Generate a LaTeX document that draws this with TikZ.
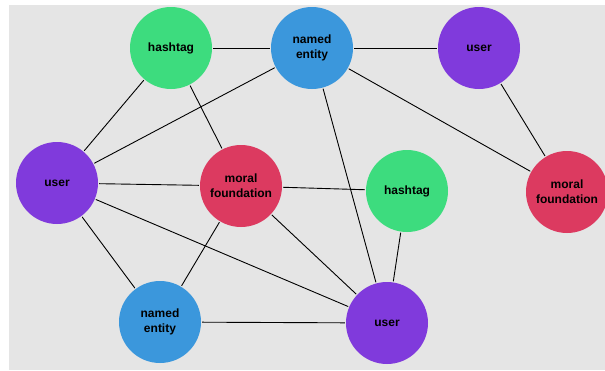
\documentclass[tikz,border=0pt]{standalone}
\usepackage{fontspec}
\setmainfont{Liberation Sans}
\definecolor{tagcol}{RGB}{61,220,126}
\definecolor{entcol}{RGB}{59,151,220}
\definecolor{usercol}{RGB}{128,58,220}
\definecolor{moralcol}{RGB}{220,58,96}
\definecolor{bgcol}{RGB}{229,229,229}
\begin{document}
\begin{tikzpicture}[x=1pt,y=-1pt,
	vertex/.style={circle,minimum size=82pt,inner sep=0pt,align=center,
		font=\fontsize{12}{15}\selectfont\bfseries},
	tag/.style={vertex,fill=tagcol},
	ent/.style={vertex,fill=entcol},
	usr/.style={vertex,fill=usercol},
	moral/.style={vertex,fill=moralcol},
	link/.style={line width=0.9pt,shorten >=1pt,shorten <=1pt}]
	\useasboundingbox (0,0) rectangle (605,370);
	\fill[bgcol] (9,5) rectangle (605,370);
	\node[tag]   (ht1) at (171,48)  {hashtag};
	\node[ent]   (ne1) at (312,48)  {named\\entity};
	\node[usr]   (us1) at (479,48)  {user};
	\node[usr]   (us2) at (57,183)  {user};
	\node[moral] (mf1) at (241,186) {moral\\foundation};
	\node[tag]   (ht2) at (407,191) {hashtag};
	\node[moral] (mf2) at (567,192) {moral\\foundation};
	\node[ent]   (ne2) at (160,322) {named\\entity};
	\node[usr]   (us3) at (387,323) {user};
	\foreach \a/\b in {ht1/ne1,ne1/us1,us1/mf2,ne1/mf2,ht1/us2,ht1/mf1,ne1/us2,
		ne1/us3,us2/mf1,mf1/ht2,us2/ne2,us2/us3,mf1/ne2,mf1/us3,ht2/us3,ne2/us3}{
		\draw[link] (\a) -- (\b);
	}
\end{tikzpicture}
\end{document}
